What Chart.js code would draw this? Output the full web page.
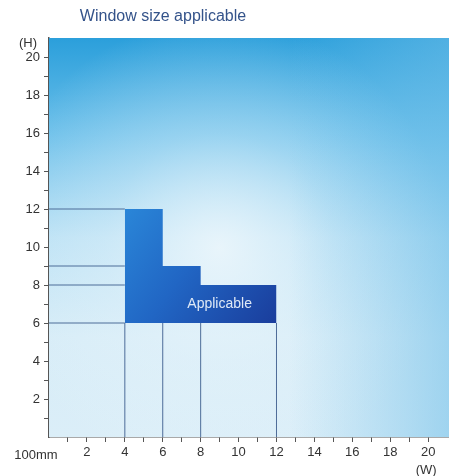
<!DOCTYPE html>
<html>
<head>
<meta charset="utf-8">
<script src="https://cdn.jsdelivr.net/npm/chart.js@4"></script>
<style>
html,body{margin:0;padding:0;background:#fff;}
#wrap{width:449px;height:476px;position:relative;}
</style>
</head>
<body>
<div id="wrap"><canvas id="c" width="449" height="476"></canvas></div>
<script>
// ---- data ----
const titleText = 'Window size applicable';
const xTickValues = [1,2,3,4,5,6,7,8,9,10,11,12,13,14,15,16,17,18,19,20];
const yTickValues = [1,2,3,4,5,6,7,8,9,10,11,12,13,14,15,16,17,18,19,20];
const xLabelText = '100mm';
const xUnitText = '(W)';
const yUnitText = '(H)';
// applicable region: widths (W) and max height (H) from each width (stepped top edge)
const regionW = [4, 6, 8, 12];
const regionH = [12, 9, 8, 8];
const regionBase = 6;
// reference guide lines
const guideH = [12, 9, 8, 6];   // horizontal lines from axis to W=4
const guideV = [4, 6, 8, 12];   // vertical lines from axis to H=6
const regionLabel = 'Applicable';
const regionLabelPos = {x: 9, y: 7};

const FONT = '"Liberation Sans", Arial, sans-serif';
const guideColor = '#4d6c98';

const datasets = [];
// region
datasets.push({
  label: 'region',
  data: regionW.map((w,i)=>({x:w, y:regionH[i]})),
  stepped: 'before',
  borderWidth: 0,
  pointRadius: 0,
  fill: {value: regionBase},
  backgroundColor: (ctx) => {
    const ch = ctx.chart; const ca = ch.chartArea;
    if (!ca) return '#2060c0';
    const xs = ch.scales.x, ys = ch.scales.y;
    const g = ch.ctx.createLinearGradient(xs.getPixelForValue(4), ys.getPixelForValue(12), xs.getPixelForValue(12), ys.getPixelForValue(6));
    g.addColorStop(0, '#2a86d8');
    g.addColorStop(0.45, '#2166c4');
    g.addColorStop(1, '#1a3d9c');
    return g;
  },
  order: 2
});
guideH.forEach(h => datasets.push({
  data: [{x:0,y:h},{x:4,y:h}], borderColor: guideColor, borderWidth: 1, pointRadius: 0, fill:false, order:1
}));
guideV.forEach(v => datasets.push({
  data: [{x:v,y:0},{x:v,y:regionBase}], borderColor: guideColor, borderWidth: 1, pointRadius: 0, fill:false, order:1
}));

const bgPlugin = {
  id: 'bg',
  beforeDatasetsDraw(chart) {
    const {ctx, chartArea: a} = chart;
    ctx.save();
    let g = ctx.createLinearGradient(0, a.top, 0, a.bottom);
    g.addColorStop(0, '#2b9fdb');
    g.addColorStop(0.25, '#6cc0ea');
    g.addColorStop(0.5, '#b8e0f4');
    g.addColorStop(0.75, '#d6ecf7');
    g.addColorStop(1, '#dbeef8');
    ctx.fillStyle = g;
    ctx.fillRect(a.left, a.top, a.right - a.left, a.bottom - a.top);
    const cx = a.left + 170, cy = a.top + 210;
    let r = ctx.createRadialGradient(cx, cy, 0, cx, cy, 230);
    r.addColorStop(0, 'rgba(240,248,252,0.85)');
    r.addColorStop(0.5, 'rgba(235,246,252,0.35)');
    r.addColorStop(1, 'rgba(235,246,252,0)');
    ctx.fillStyle = r;
    ctx.fillRect(a.left, a.top, a.right - a.left, a.bottom - a.top);
    let h = ctx.createLinearGradient(a.left, 0, a.right, 0);
    h.addColorStop(0, 'rgba(120,195,235,0)');
    h.addColorStop(0.6, 'rgba(120,195,235,0)');
    h.addColorStop(1, 'rgba(110,190,232,0.55)');
    ctx.fillStyle = h;
    ctx.fillRect(a.left, a.top, a.right - a.left, a.bottom - a.top);
    ctx.restore();
  },
  afterDraw(chart) {
    const {ctx} = chart;
    const xs = chart.scales.x, ys = chart.scales.y;
    ctx.save();
    ctx.fillStyle = '#34538a';
    ctx.font = '16px ' + FONT;
    ctx.textAlign = 'center';
    ctx.textBaseline = 'middle';
    ctx.fillText(titleText, 163, 17);
    ctx.fillStyle = '#333';
    ctx.font = '13px ' + FONT;
    ctx.fillText(xLabelText, 36, 455);
    ctx.fillText(xUnitText, xs.getPixelForValue(20) - 2, 470);
    ctx.fillText(yUnitText, 28, 43);
    ctx.fillStyle = '#dfe9f6';
    ctx.font = '14px ' + FONT;
    ctx.fillText(regionLabel, xs.getPixelForValue(regionLabelPos.x), ys.getPixelForValue(regionLabelPos.y));
    ctx.restore();
  }
};

new Chart(document.getElementById('c'), {
  type: 'line',
  data: {datasets},
  options: {
    responsive: false,
    animation: false,
    layout: {padding: {top: 38, left: 0, right: 0, bottom: 0}},
    plugins: {legend: {display: false}, tooltip: {enabled: false}, title: {display: false}},
    scales: {
      x: {
        type: 'linear', min: 0, max: 21.1,
        afterBuildTicks: s => { s.ticks = xTickValues.map(v => ({value: v})); },
        afterFit: s => { s.height = 39; },
        ticks: {
          autoSkip: false, maxRotation: 0, padding: 3,
          color: '#333', font: {family: FONT, size: 13},
          callback: v => (v % 2 === 0 ? String(v) : '')
        },
        grid: {drawOnChartArea: false, drawTicks: true, tickLength: 5, tickColor: '#555', tickWidth: 1},
        border: {display: true, color: '#555', width: 1.5}
      },
      y: {
        type: 'linear', min: 0, max: 21,
        afterBuildTicks: s => { s.ticks = yTickValues.map(v => ({value: v})); },
        afterFit: s => { s.width = 49; },
        ticks: {
          autoSkip: false, padding: 4,
          color: '#333', font: {family: FONT, size: 13},
          callback: v => (v % 2 === 0 ? String(v) : '')
        },
        grid: {drawOnChartArea: false, drawTicks: true, tickLength: 5, tickColor: '#555', tickWidth: 1},
        border: {display: true, color: '#555', width: 1.5}
      }
    }
  },
  plugins: [bgPlugin]
});
</script>
</body>
</html>
